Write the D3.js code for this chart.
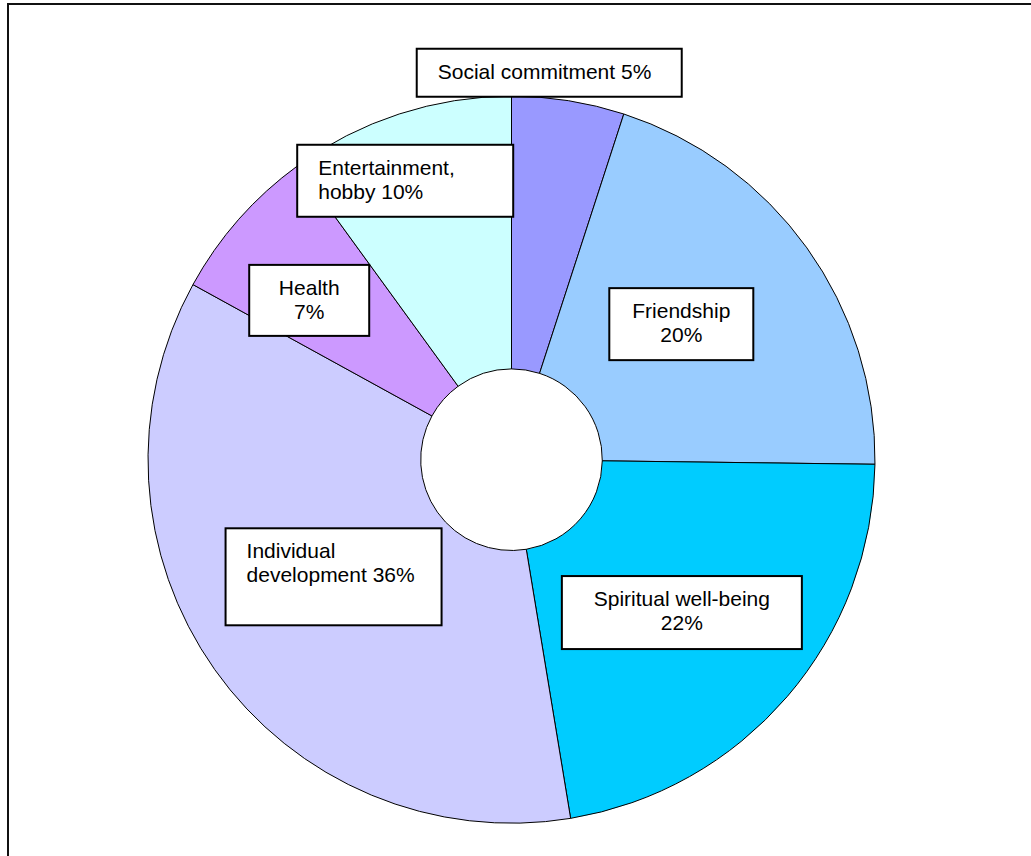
<!DOCTYPE html>
<html>
<head>
<meta charset="utf-8">
<script src="https://cdn.jsdelivr.net/npm/d3@7"></script>
<style>
  html, body { margin: 0; padding: 0; background: #fff; }
  svg { display: block; }
  text { font-family: "Liberation Sans", Arial, sans-serif; font-size: 21px; fill: #000; }
</style>
</head>
<body>
<svg id="chart" width="1031" height="856"></svg>
<script>
// ---- data ----
const categories = ["Social commitment", "Friendship", "Spiritual well-being", "Individual development", "Health", "Entertainment, hobby"];
const values = [5, 20.2, 22.2, 35.6, 7, 10];
const colors = ["#9999FF", "#99CCFF", "#00CCFF", "#CCCCFF", "#CC99FF", "#CCFFFF"];
const labelLines = [
  ["Social commitment 5%"],
  ["Friendship", "20%"],
  ["Spiritual well-being", "22%"],
  ["Individual", "development 36%"],
  ["Health", "7%"],
  ["Entertainment,", "hobby 10%"]
];

// ---- layout (label boxes relative to slice centroids) ----
const labelLayout = [
  { dx: 2.2,   dy: -162.6, w: 265, h: 48, align: "start"  },
  { dx: -14.8, dy: -3.2,   w: 144, h: 72, align: "middle" },
  { dx: -1.9,  dy: 4.8,    w: 240, h: 73, align: "middle" },
  { dx: 7.5,   dy: -14.1,  w: 216, h: 97, align: "start"  },
  { dx: -31.9, dy: -9.1,   w: 120, h: 71, align: "middle" },
  { dx: -36.1, dy: -62.9,  w: 216, h: 72, align: "start"  }
];

const svg = d3.select("#chart");
const cx = 511.5, cy = 459.7, outerR = 363.5, innerR = 90.8;

// frame
svg.append("rect")
  .attr("x", 8).attr("y", 4).attr("width", 1100).attr("height", 1000)
  .attr("fill", "none").attr("stroke", "#111").attr("stroke-width", 2);

const data = categories.map((c, i) => ({ name: c, value: values[i], color: colors[i], lines: labelLines[i], lay: labelLayout[i] }));

const pie = d3.pie().value(d => d.value).sort(null).startAngle(0).endAngle(2 * Math.PI);
const arc = d3.arc().innerRadius(innerR).outerRadius(outerR);
const arcs = pie(data);

const g = svg.append("g").attr("transform", `translate(${cx},${cy})`);
g.selectAll("path.slice").data(arcs).join("path")
  .attr("class", "slice")
  .attr("d", arc)
  .attr("fill", d => d.data.color)
  .attr("stroke", "#000")
  .attr("stroke-width", 1);

// labels
const lg = g.selectAll("g.lab").data(arcs).join("g").attr("class", "lab")
  .attr("transform", d => {
    const c = arc.centroid(d);
    const L = d.data.lay;
    return `translate(${c[0] + L.dx - L.w / 2},${c[1] + L.dy - L.h / 2})`;
  });
lg.append("rect")
  .attr("width", d => d.data.lay.w).attr("height", d => d.data.lay.h)
  .attr("fill", "#fff").attr("stroke", "#000").attr("stroke-width", 2);
lg.each(function(d) {
  const L = d.data.lay;
  const t = d3.select(this).append("text")
    .attr("text-anchor", L.align);
  d.data.lines.forEach((line, i) => {
    t.append("tspan")
      .attr("x", L.align === "middle" ? L.w / 2 : 21)
      .attr("y", 30 + i * 24)
      .text(line);
  });
});
</script>
</body>
</html>
